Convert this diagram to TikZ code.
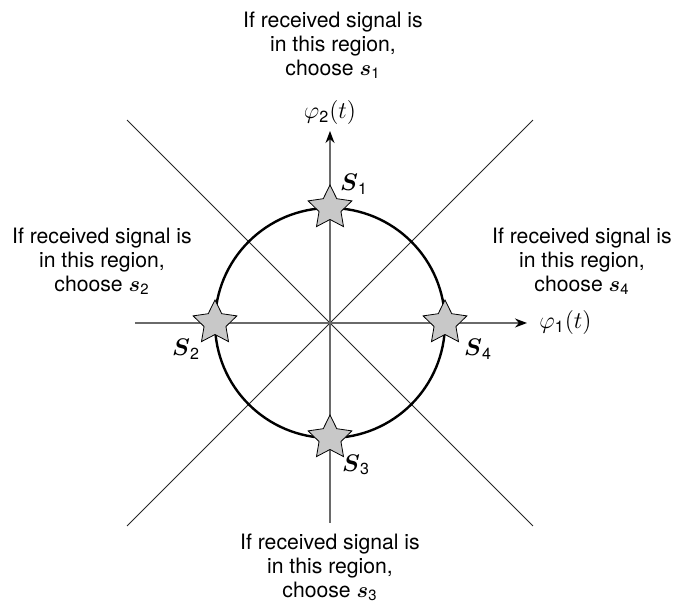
\documentclass[tikz,border=0pt]{standalone}
\usepackage{amsmath}
\usepackage{amssymb}
\usepackage{fontspec}
\setmainfont{TeX Gyre Heros}
\usepackage{tikz}
\usetikzlibrary{calc,shapes.geometric,arrows.meta}
\definecolor{axisgray}{HTML}{6A6A6A}
\definecolor{starfill}{HTML}{C8C8C8}

\begin{document}
\begin{tikzpicture}[x=0.5pt,y=0.5pt,>=stealth,
  region/.style={align=center,inner sep=0pt,font=\fontsize{10.6}{12}\selectfont},
  sym/.style={star,star points=5,star point ratio=2.0,minimum size=23pt,inner sep=0pt,
    draw=black,line width=0.4pt,fill=starfill},
  symlabel/.style={inner sep=0pt,font=\fontsize{12}{13}\selectfont},
  axlabel/.style={inner sep=0pt,font=\fontsize{11.5}{13}\selectfont}]
  \useasboundingbox (-330,-280) rectangle (349,323);
  % decision boundaries
  \foreach \a in {45,135,225,315} \coordinate (D\a) at (\a:287);
  \draw[black!85,line width=0.45pt] (D135)--(D315);
  \draw[black!85,line width=0.45pt] (D45)--(D225);
  % axes
  \coordinate (Xl) at (-195,0);
  \coordinate (Xr) at (197,0);
  \coordinate (Yb) at (0,-200);
  \coordinate (Yt) at (0,192);
  \draw[axisgray,line width=0.7pt,-{Stealth[black,length=6pt,width=4.5pt]}] (Xl)--(Xr);
  \draw[axisgray,line width=0.7pt,-{Stealth[black,length=6pt,width=4.5pt]}] (Yb)--(Yt);
  \node[axlabel,anchor=west] (phi1) at ($(Xr)+(12,0)$) {$\varphi_{\mathrm{1}}(t)$};
  \node[axlabel,anchor=south] (phi2) at ($(Yt)+(0,6)$) {$\varphi_{\mathrm{2}}(t)$};
  % signal circle and points
  \draw[black,line width=1.2pt] (0,0) circle (115);
  \foreach \n/\a in {1/90,2/180,3/270,4/0} \node[sym] (s\n) at (\a:115) {};
  \node[symlabel] (l1) at (24,139)   {$\boldsymbol{S}_{\mathrm{1}}$};
  \node[symlabel] (l2) at (-144,-26) {$\boldsymbol{S}_{\mathrm{2}}$};
  \node[symlabel] (l3) at (26,-142)  {$\boldsymbol{S}_{\mathrm{3}}$};
  \node[symlabel] (l4) at (148,-26)  {$\boldsymbol{S}_{\mathrm{4}}$};
  % regions
  \node[region] (r1) at (3,278)    {If received signal is\\in this region,\\choose $\boldsymbol{s}_{\mathrm{1}}$};
  \node[region] (r2) at (-228,62)  {If received signal is\\in this region,\\choose $\boldsymbol{s}_{\mathrm{2}}$};
  \node[region] (r3) at (0,-244)   {If received signal is\\in this region,\\choose $\boldsymbol{s}_{\mathrm{3}}$};
  \node[region] (r4) at (252,62)   {If received signal is\\in this region,\\choose $\boldsymbol{s}_{\mathrm{4}}$};
\end{tikzpicture}
\end{document}
